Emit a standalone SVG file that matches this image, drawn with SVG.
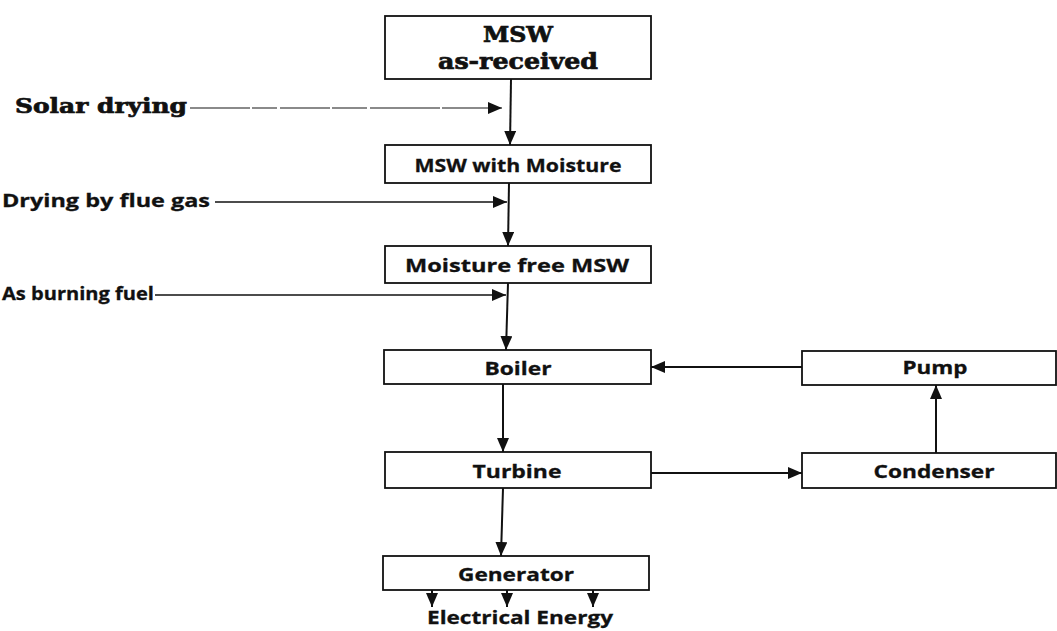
<svg xmlns="http://www.w3.org/2000/svg" width="1057" height="631" viewBox="0 0 1057 631">
<defs>
<marker id="ah" viewBox="0 0 14 12" refX="14" refY="6" markerWidth="14" markerHeight="12" markerUnits="userSpaceOnUse" orient="auto">
<path d="M0,0 L14,6 L0,12 Z" fill="#111"/>
</marker>
</defs>
<style>
.box{fill:#fff;stroke:#111;stroke-width:1.8}
.ln{fill:none;stroke:#111;stroke-width:2;marker-end:url(#ah)}
.sl{font-family:"DejaVu Serif","Liberation Serif",serif;font-weight:bold;fill:#111;stroke:#111;stroke-width:0.7}
.t{font-family:"Open Sans","Liberation Sans",sans-serif;font-weight:bold;fill:#111;font-size:18.5px;stroke:#111;stroke-width:0.3}
.c{text-anchor:middle}
</style>
<rect width="1057" height="631" fill="#fff"/>
<g id="connectors">
<line class="ln" x1="511" y1="79" x2="510" y2="145"/>
<line x1="190" y1="108" x2="502" y2="108" stroke="#8a8a8a" stroke-width="1.8" stroke-dasharray="60 2 25 3 50 2 35 3 70 2" marker-end="url(#ah)"/>
<line class="ln" x1="509" y1="183" x2="508" y2="246"/>
<line class="ln" x1="215" y1="202" x2="507" y2="202" style="stroke-width:1.6"/>
<line class="ln" x1="508" y1="283" x2="506" y2="350"/>
<line class="ln" x1="155" y1="295" x2="506" y2="295" style="stroke-width:1.6"/>
<line class="ln" x1="503" y1="384" x2="503" y2="452"/>
<line class="ln" x1="503" y1="488" x2="501" y2="556"/>
<line class="ln" x1="802" y1="367" x2="651" y2="367"/>
<line class="ln" x1="651" y1="473" x2="802" y2="473"/>
<line class="ln" x1="936" y1="453" x2="936" y2="385"/>
<line class="ln" x1="432" y1="590" x2="432" y2="607"/>
<line class="ln" x1="507" y1="590" x2="507" y2="607"/>
<line class="ln" x1="593" y1="590" x2="593" y2="607"/>
</g>
<g id="msw-received">
<rect class="box" x="385" y="16" width="266" height="63"/>
<text class="sl c" x="518" y="42" font-size="22" textLength="70" lengthAdjust="spacingAndGlyphs">MSW</text>
<text class="sl c" x="518" y="69" font-size="22" textLength="160" lengthAdjust="spacingAndGlyphs">as-received</text>
</g>
<g id="solar-drying">
<text class="sl" x="15" y="113" font-size="21" textLength="172" lengthAdjust="spacingAndGlyphs">Solar drying</text>
</g>
<g id="msw-moisture">
<rect class="box" x="385" y="145" width="266" height="38"/>
<text class="t c" x="518" y="172" textLength="207" lengthAdjust="spacingAndGlyphs">MSW with Moisture</text>
</g>
<g id="flue-gas">
<text class="t" x="2" y="207" textLength="208" lengthAdjust="spacingAndGlyphs">Drying by flue gas</text>
</g>
<g id="moisture-free">
<rect class="box" x="385" y="246" width="266" height="37"/>
<text class="t c" x="517" y="272" textLength="224" lengthAdjust="spacingAndGlyphs">Moisture free MSW</text>
</g>
<g id="burning-fuel">
<text class="t" x="2" y="300" textLength="152" lengthAdjust="spacingAndGlyphs">As burning fuel</text>
</g>
<g id="boiler">
<rect class="box" x="384" y="350" width="267" height="34"/>
<text class="t c" x="518" y="375" textLength="67" lengthAdjust="spacingAndGlyphs">Boiler</text>
</g>
<g id="turbine">
<rect class="box" x="385" y="452" width="266" height="36"/>
<text class="t c" x="517" y="478" textLength="89" lengthAdjust="spacingAndGlyphs">Turbine</text>
</g>
<g id="pump">
<rect class="box" x="802" y="351" width="254" height="34"/>
<text class="t c" x="935" y="374" textLength="65" lengthAdjust="spacingAndGlyphs">Pump</text>
</g>
<g id="condenser">
<rect class="box" x="802" y="453" width="254" height="35"/>
<text class="t c" x="934" y="478" textLength="121" lengthAdjust="spacingAndGlyphs">Condenser</text>
</g>
<g id="generator">
<rect class="box" x="383" y="556" width="266" height="34"/>
<text class="t c" x="516" y="581" textLength="116" lengthAdjust="spacingAndGlyphs">Generator</text>
</g>
<g id="electrical-energy">
<text class="t c" x="520" y="624" textLength="186" lengthAdjust="spacingAndGlyphs">Electrical Energy</text>
</g>
</svg>
